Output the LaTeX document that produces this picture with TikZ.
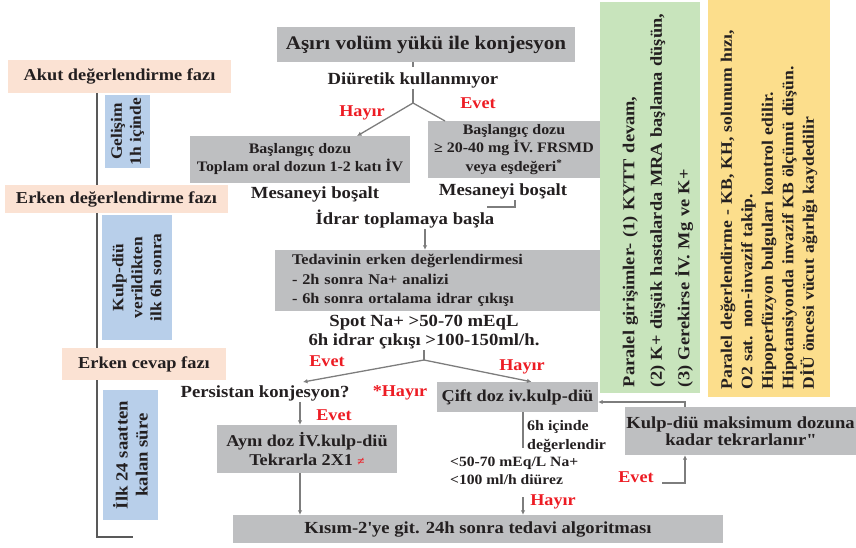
\documentclass[tikz,border=0pt]{standalone}
\usepackage{fontspec}
\setmainfont[FakeStretch=1.1]{Liberation Serif}
\usetikzlibrary{arrows.meta}

\definecolor{boxgray}{RGB}{190,191,193}
\definecolor{phasebg}{RGB}{251,226,211}
\definecolor{timebg}{RGB}{184,207,234}
\definecolor{parbg}{RGB}{200,228,188}
\definecolor{monbg}{RGB}{252,222,140}
\definecolor{ansred}{RGB}{237,28,36}
\definecolor{inkdark}{RGB}{35,31,32}
\definecolor{linegray}{RGB}{125,125,125}
\newcommand\fsz[2]{\fontsize{#1}{#2}\selectfont\bfseries}

\tikzset{
  graybox/.style={fill=boxgray, inner sep=0pt, align=center},
  phase/.style={fill=phasebg, inner sep=0pt, font=\fsz{16.7}{19}},
  timebox/.style={fill=timebg, inner sep=0pt, rotate=90, align=center, font=\fsz{15.8}{19}},
  plain/.style={inner sep=1pt, align=center, font=\fsz{17}{19}},
  ans/.style={inner sep=0pt, text=ansred, font=\fsz{16.5}{17}},
  conn/.style={draw=linegray, line width=1.3pt},
  arr/.style={conn, -{Latex[length=4.5pt,width=4.5pt]}},
  tline/.style={draw=black!65, line width=2.6pt},
}

\begin{document}
\begin{tikzpicture}[x=1pt, y=-1pt, text=inkdark]
\useasboundingbox (0,0) rectangle (856,547);

% side panels
\fill[parbg] (600,2) rectangle (700,393);
\node[rotate=90, inner sep=0pt, text width=378pt, align=left, font=\fsz{16.7}{27.5}] (par) at (658,198)
  {Paralel girişimler- (1) KYTT devam,\\(2) K+ düşük hastalarda MRA başlama düşün,\\(3) Gerekirse İV. Mg ve K+};
\node[fill=monbg, rotate=90, minimum width=397pt, minimum height=122pt,
      inner sep=0pt, text width=382pt, align=left, font=\fsz{16}{20.5}] (mon) at (769,198.5)
  {Paralel değerlendirme - KB, KH, solunum hızı,\\O2 sat. non-invazif takip.\\Hipoperfüzyon bulguları kontrol edilir.\\Hipotansiyonda invazif KB ölçümü düşün.\\DİÜ öncesi vücut ağırlığı kaydedilir};

% phases
\coordinate (tl) at (97,0);
\node[phase, minimum width=223pt, minimum height=33pt] (akut) at (119.5,76.5) {Akut değerlendirme fazı};
\node[phase, minimum width=223pt, minimum height=28pt] (erken) at (116.5,199) {Erken değerlendirme fazı};
\node[phase, minimum width=164pt, minimum height=32pt] (cevap) at (144,364) {Erken cevap fazı};
\coordinate (tlend) at (133,537);
\draw[tline] (akut.south -| tl) -- (erken.north -| tl);
\draw[tline] (erken.south -| tl) -- (cevap.north -| tl);
\draw[tline] (cevap.south -| tl) |- (tlend);
\node[timebox, minimum width=73pt, minimum height=45pt] (t1h) at (127.5,131.5) {Gelişim\\1h içinde};
\node[timebox, minimum width=125pt, minimum height=70pt] (t6h) at (137,277.5) {Kulp-diü\\verildikten\\ilk 6h sonra};
\node[timebox, minimum width=130pt, minimum height=55pt, font=\fsz{17}{20}] (t24h) at (130.5,455) {İlk 24 saatten\\kalan süre};

% main flow
\node[graybox, minimum width=298pt, minimum height=35pt, font=\fsz{19.2}{20}] (title) at (426,44.5) {Aşırı volüm yükü ile konjesyon};
\node[plain] (diur) at (413,80) {Diüretik kullanmıyor};
\draw[conn] (title.south -| diur.north) -- ++(0,5);
\coordinate (br1) at (413,103);
\draw[conn] (diur.south) -- (br1);
\node[graybox, minimum width=220pt, minimum height=47pt, font=\fsz{14.5}{18}] (dozL) at (300,159.5)
  {Başlangıç dozu\\Toplam oral dozun 1-2 katı İV};
\node[graybox, minimum width=172pt, minimum height=57pt, font=\fsz{14.5}{18.5}] (dozR) at (514,149.5)
  {Başlangıç dozu\\≥ 20-40 mg İV. FRSMD\\veya eşdeğeri\textsuperscript{*}};
\coordinate (inL) at (357,136);
\coordinate (inR) at (445,121);
\draw[arr] (br1) -- (inL);
\draw[conn] (br1) -- (inR);
\node[ans] (hay1) at (362,113) {Hayır};
\node[ans] (evt1) at (478,103) {Evet};

\node[plain] (mesL) at (315,194) {Mesaneyi boşalt};
\node[plain] (mesR) at (503,191) {Mesaneyi boşalt};
\coordinate (mr1) at (515,200);
\coordinate (mr2) at (487,207);
\draw[conn] (mr1) |- (mr2);
\node[plain] (idrar) at (405,219) {İdrar toplamaya başla};

\node[graybox, minimum width=325pt, minimum height=61pt, inner xsep=17pt, text width=291pt,
      align=left, font=\fsz{14.8}{19.5}] (ted) at (437.5,280.5)
  {Tedavinin erken değerlendirmesi\\- 2h sonra Na+ analizi\\- 6h sonra ortalama idrar çıkışı};
\draw[arr] ([xshift=20pt]idrar.south) -- ([xshift=20pt]idrar.south |- ted.north);

\node[plain] (spot) at (424,332) {Spot Na+ >50-70 mEqL\\6h idrar çıkışı >100-150ml/h.};
\coordinate (br2) at (424,360);
\draw[conn] (spot.south) -- (br2);

\node[plain] (pers) at (265,393) {Persistan konjesyon?};
\node[graybox, minimum width=161pt, minimum height=30pt, font=\fsz{16.6}{19}] (cift) at (517.5,397) {Çift doz iv.kulp-diü};
\coordinate (pk) at (303,382);
\draw[arr] (br2) -- (pk);
\draw[arr] (br2) -- ([xshift=14pt]cift.north);
\node[ans] (evt2) at (327,361) {Evet};
\node[ans] (hay2) at (522,367) {Hayır};
\node[ans] (hay3) at (400,393) {*Hayır};

\node[graybox, minimum width=180pt, minimum height=48pt, font=\fsz{16.5}{19}] (ayni) at (307,449)
  {Aynı doz İV.kulp-diü\\Tekrarla 2X1 {\color{ansred}\fontsize{12}{12}\selectfont ≠}};
\draw[arr] ([xshift=35pt]pers.south) -- ([xshift=35pt]pers.south |- ayni.north);
\node[ans] (evt3) at (334,415) {Evet};

\node[graybox, minimum width=490pt, minimum height=28pt, font=\fsz{16.9}{17}] (kisim) at (478,529)
  {Kısım-2\textquotesingle ye git. 24h sonra tedavi algoritması};
\draw[arr] ([xshift=-7pt]ayni.south) -- ([xshift=-7pt]ayni.south |- kisim.north);

\coordinate (c6) at (523,448);
\draw[conn] ([xshift=5.5pt]cift.south) -- (c6);
\node[plain, anchor=west, align=left, inner sep=0pt, font=\fsz{14.5}{19}] (eval) at (527,436.5) {6h içinde\\değerlendir};
\node[plain, anchor=west, align=left, inner sep=0pt, font=\fsz{14.2}{18}] (crit) at (450,471) {<50-70 mEq/L Na+\\<100 ml/h diürez};
\coordinate (c7) at (523,497);
\draw[arr] (c7) -- (c7 |- kisim.north);
\node[ans] (hay4) at (553,502) {Hayır};

\node[graybox, minimum width=231pt, minimum height=48pt, font=\fsz{16.9}{17}] (kulp) at (740.5,431)
  {Kulp-diü maksimum dozuna\\kadar tekrarlanır\textquotedbl};
\draw[arr] ([xshift=-55.5pt]kulp.north) |- ([yshift=-5pt]cift.east);
\coordinate (ev) at (662,483);
\draw[arr] (ev) -| ([xshift=-55.5pt]kulp.south);
\node[ans] (evt4) at (636,477) {Evet};
\end{tikzpicture}
\end{document}
